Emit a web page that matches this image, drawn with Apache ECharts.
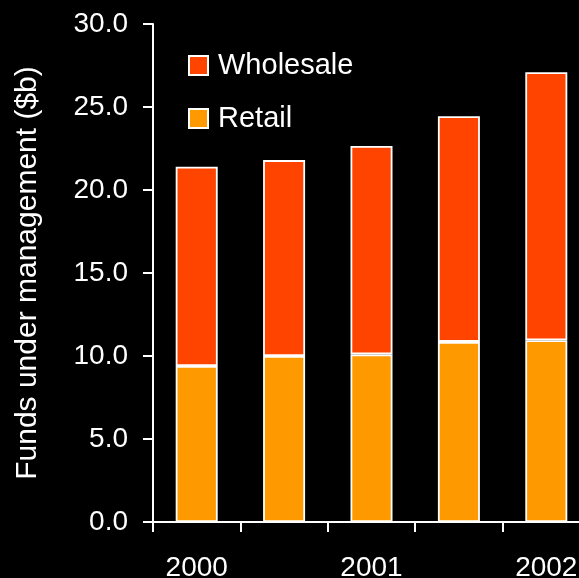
<!DOCTYPE html>
<html>
<head>
<meta charset="utf-8">
<title>Funds under management</title>
<script src="https://cdn.jsdelivr.net/npm/echarts@6/dist/echarts.min.js"></script>
<style>
  html, body { margin: 0; padding: 0; background: #000; }
  #chart { width: 579px; height: 578px; }
</style>
</head>
<body>
<div id="chart"></div>
<script>
// Half-yearly periods; only the year openings carry a label
const categories = ['2000', '', '2001', '', '2002'];
const retail = [9.4, 10.0, 10.1, 10.85, 10.95];
const wholesale = [12.0, 11.8, 12.55, 13.6, 16.15];
const seriesNames = ['Wholesale', 'Retail'];
const yTitle = 'Funds under management ($b)';

const FONT = "'Liberation Sans', Arial, sans-serif";
const WHITE = '#ffffff';

const chart = echarts.init(document.getElementById('chart'), null, { renderer: 'canvas' });

chart.setOption({
  backgroundColor: '#000000',
  animation: false,
  textStyle: { fontFamily: FONT, color: WHITE },
  grid: {
    left: 153, top: 24, width: 437, height: 498,
    containLabel: false,
    outerBoundsMode: 'none'
  },
  legend: {
    data: seriesNames,
    orient: 'vertical',
    left: 188,
    top: 51,
    padding: 0,
    itemWidth: 19,
    itemHeight: 19,
    itemGap: 24,
    icon: 'rect',
    textStyle: { color: WHITE, fontSize: 29, fontFamily: FONT, padding: [0, 0, 0, 5] }
  },
  xAxis: {
    type: 'category',
    data: categories,
    boundaryGap: true,
    axisLine: { show: true, lineStyle: { color: WHITE, width: 2 } },
    axisTick: { show: true, length: 10, lineStyle: { color: WHITE, width: 2 } },
    axisLabel: { color: WHITE, fontSize: 28, fontFamily: FONT, margin: 32, interval: 0 },
    splitLine: { show: false }
  },
  yAxis: {
    type: 'value',
    min: 0,
    max: 30,
    interval: 5,
    name: yTitle,
    nameLocation: 'middle',
    nameGap: 110,
    nameTextStyle: { color: WHITE, fontSize: 30, fontFamily: FONT },
    axisLine: { show: true, lineStyle: { color: WHITE, width: 2 } },
    axisTick: { show: true, length: 10, lineStyle: { color: WHITE, width: 2 } },
    axisLabel: {
      color: WHITE, fontSize: 28, fontFamily: FONT, margin: 25,
      formatter: v => v.toFixed(1)
    },
    splitLine: { show: false }
  },
  series: [
    {
      name: 'Retail',
      type: 'bar',
      stack: 'funds',
      data: retail,
      barWidth: 42,
      itemStyle: { color: '#ff9900', borderColor: WHITE, borderWidth: 1.8 }
    },
    {
      name: 'Wholesale',
      type: 'bar',
      stack: 'funds',
      data: wholesale,
      barWidth: 42,
      itemStyle: { color: '#ff4400', borderColor: WHITE, borderWidth: 1.8 }
    }
  ]
});
</script>
</body>
</html>
